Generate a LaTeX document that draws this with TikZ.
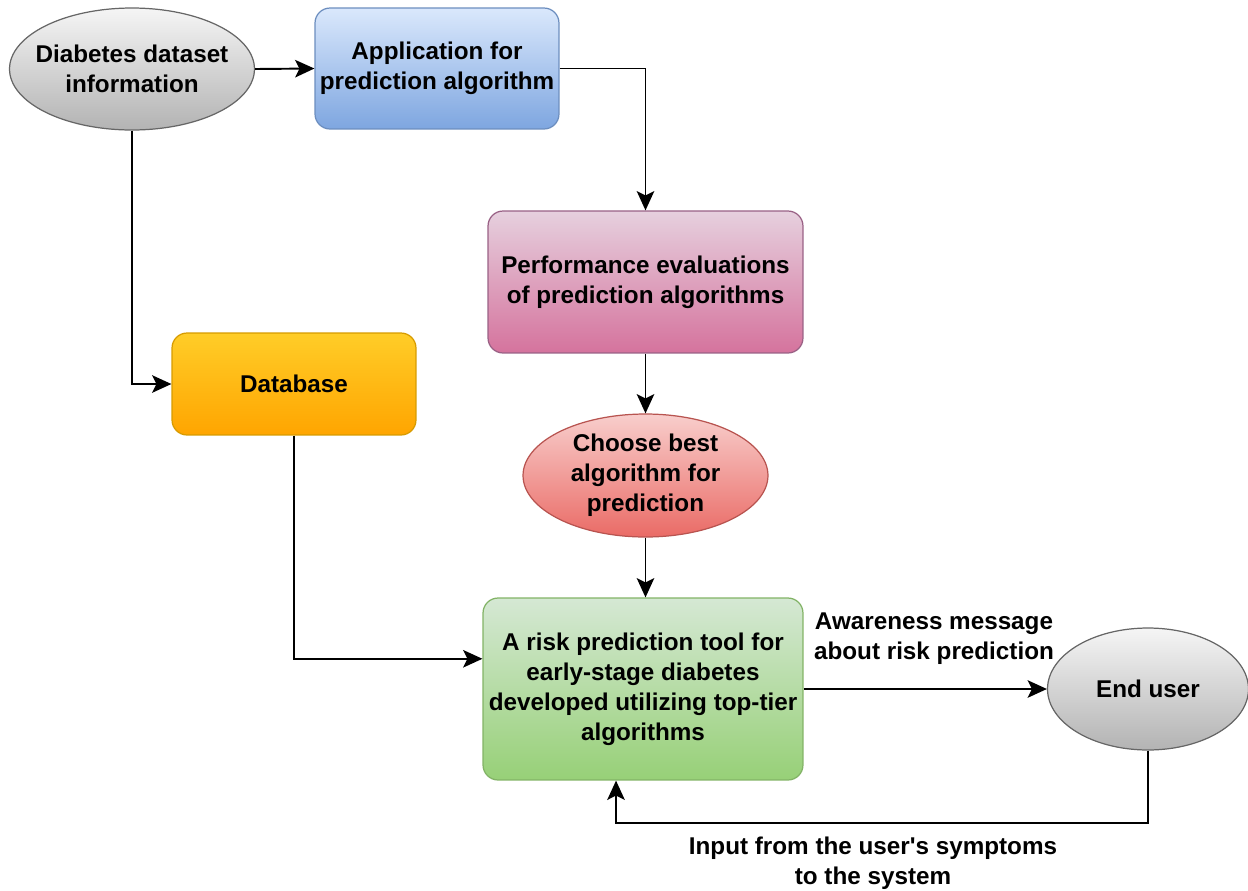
\documentclass[tikz,border=0pt]{standalone}
\usepackage{fontspec}
\setmainfont{Liberation Sans}
\usetikzlibrary{arrows.meta,calc,shapes.geometric}
\definecolor{blueT}{HTML}{DAE8FC}\definecolor{blueB}{HTML}{7EA6E0}\definecolor{blueD}{HTML}{6C8EBF}
\definecolor{pinkT}{HTML}{E6D0DE}\definecolor{pinkB}{HTML}{D5739D}\definecolor{pinkD}{HTML}{996185}
\definecolor{redT}{HTML}{F8CECC}\definecolor{redB}{HTML}{EA6B66}\definecolor{redD}{HTML}{B85450}
\definecolor{grnT}{HTML}{D5E8D4}\definecolor{grnB}{HTML}{97D077}\definecolor{grnD}{HTML}{82B366}
\definecolor{orT}{HTML}{FFCD28}\definecolor{orB}{HTML}{FFA500}\definecolor{orD}{HTML}{D79B00}
\definecolor{gryT}{HTML}{F5F5F5}\definecolor{gryB}{HTML}{B3B3B3}\definecolor{gryD}{HTML}{666666}
\tikzset{
  lbl/.style={font=\fontsize{13.8}{17}\selectfont\bfseries, align=center, text=black},
  boxnode/.style={lbl, rectangle, rounded corners=0.3cm, draw, line width=0.7pt, inner sep=0pt},
  ellnode/.style={lbl, ellipse, draw, line width=0.7pt, inner xsep=-12pt, inner ysep=0pt},
  arr/.style={draw=black, line width=1.1pt, -{Stealth[length=11pt,width=10pt,inset=2.5pt]}},
}
\begin{document}
\begin{tikzpicture}[x=0.02cm,y=-0.02cm]
\useasboundingbox (0,0) rectangle (1248,890);
\node[ellnode, draw=gryD, top color=gryT, bottom color=gryB, minimum width=4.9cm, minimum height=2.44cm] (ds) at (132,69) {Diabetes dataset\\information};
\node[boxnode, draw=blueD, top color=blueT, bottom color=blueB, minimum width=4.88cm, minimum height=2.42cm] (app) at (437,68.5) {Application for\\prediction algorithm};
\node[boxnode, draw=pinkD, top color=pinkT, bottom color=pinkB, minimum width=6.3cm, minimum height=2.84cm] (perf) at (645.5,282) {Performance evaluations\\of prediction algorithms};
\node[ellnode, draw=redD, top color=redT, bottom color=redB, minimum width=4.9cm, minimum height=2.46cm] (choose) at (645.5,475.5) {Choose best\\algorithm for\\prediction};
\node[boxnode, draw=orD, top color=orT, bottom color=orB, minimum width=4.88cm, minimum height=2.04cm] (db) at (294,384) {Database};
\node[boxnode, draw=grnD, top color=grnT, bottom color=grnB, minimum width=6.4cm, minimum height=3.64cm] (tool) at (643,689) {A risk prediction tool for\\early-stage diabetes\\developed utilizing top-tier\\algorithms};
\node[ellnode, draw=gryD, top color=gryT, bottom color=gryB, minimum width=4.02cm, minimum height=2.44cm] (user) at (1148,689) {End user};
\node[lbl] (aw) at (934,639) {Awareness message\\about risk prediction};
\node[lbl] (inp) at (873,863) {Input from the user\textquotesingle s symptoms\\to the system};
\draw[arr] (ds.east) -- (app.west);
\draw[arr] (app.east) -| (perf.north);
\draw[arr] (perf.south) -- (choose.north);
\draw[arr] (choose.south) -- (choose.south |- tool.north);
\draw[arr] (ds.south) |- (db.west);
\draw[arr] (db.south) |- ($(tool.north west)!0.335!(tool.south west)$);
\draw[arr] (tool.east) -- (user.west);
\coordinate (fb) at ($(tool.south west)!0.416!(tool.south east)$);
\draw[arr] (user.south) -- ++(0,72) -| (fb);
\end{tikzpicture}
\end{document}
